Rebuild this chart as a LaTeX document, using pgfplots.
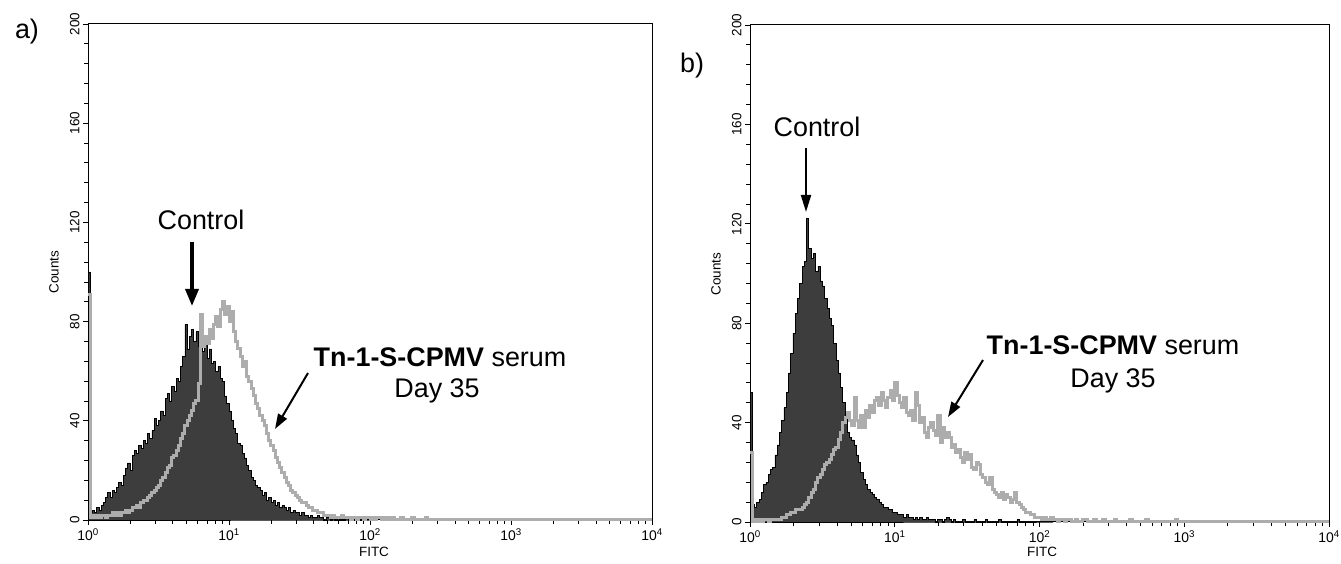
\documentclass[border=0pt]{standalone}
\usepackage{fontspec}
\setmainfont{Liberation Sans}
\usepackage{pgfplots}
\usepackage{pgfplotstable}
\pgfplotsset{compat=1.18}
\usetikzlibrary{arrows.meta}
\definecolor{ctrlfill}{gray}{0.24}
\definecolor{serumline}{gray}{0.68}

\pgfplotstableread[row sep=\\]{
i c\\
0 100\\ 1 3\\ 2 4\\ 3 3\\ 4 5\\ 5 4\\ 6 6\\ 7 7\\ 8 9\\ 9 11\\ 10 9\\ 11 12\\ 12 11\\ 13 13\\ 14 15\\ 15 14\\ 16 18\\ 17 21\\ 18 23\\ 19 20\\
20 26\\ 21 28\\ 22 27\\ 23 30\\ 24 29\\ 25 32\\ 26 31\\ 27 35\\ 28 33\\ 29 36\\ 30 41\\ 31 38\\ 32 40\\ 33 44\\ 34 42\\ 35 49\\ 36 51\\ 37 48\\ 38 54\\ 39 52\\
40 57\\ 41 56\\ 42 62\\ 43 66\\ 44 79\\ 45 69\\ 46 74\\ 47 77\\ 48 72\\ 49 76\\ 50 70\\ 51 74\\ 52 68\\ 53 72\\ 54 65\\ 55 69\\ 56 63\\ 57 64\\ 58 60\\ 59 62\\
60 57\\ 61 56\\ 62 50\\ 63 47\\ 64 44\\ 65 40\\ 66 37\\ 67 35\\ 68 31\\ 69 30\\ 70 27\\ 71 25\\ 72 22\\ 73 20\\ 74 17\\ 75 16\\ 76 14\\ 77 13\\ 78 12\\ 79 10\\
80 11\\ 81 8\\ 82 9\\ 83 7\\ 84 8\\ 85 6\\ 86 7\\ 87 5\\ 88 6\\ 89 5\\ 90 4\\ 91 5\\ 92 3\\ 93 4\\ 94 3\\ 95 3\\ 96 2\\ 97 3\\ 98 2\\ 99 2\\
100 1\\ 101 2\\ 102 1\\ 103 1\\ 104 2\\ 105 1\\ 106 1\\ 107 0\\ 108 1\\ 109 1\\ 110 0\\ 111 1\\ 112 0\\ 113 1\\ 114 0\\ 117 1\\ 118 0\\ 121 1\\ 122 0\\ 124 1\\ 125 0\\ 128 0\\
}\ctrlA

\pgfplotstableread[row sep=\\]{
i c\\
0 91\\ 1 1\\ 2 2\\ 3 1\\ 4 2\\ 5 1\\ 6 2\\ 7 2\\ 8 1\\ 9 2\\ 10 2\\ 11 3\\ 12 2\\ 13 3\\ 14 2\\ 15 3\\ 16 3\\ 17 4\\ 18 3\\ 19 4\\
20 5\\ 21 5\\ 22 6\\ 23 5\\ 24 7\\ 25 8\\ 26 8\\ 27 9\\ 28 10\\ 29 11\\ 30 12\\ 31 13\\ 32 14\\ 33 16\\ 34 17\\ 35 19\\ 36 21\\ 37 22\\ 38 25\\ 39 26\\
40 28\\ 41 30\\ 42 33\\ 43 35\\ 44 38\\ 45 40\\ 46 42\\ 47 44\\ 48 47\\ 49 48\\ 50 55\\ 51 83\\ 52 70\\ 53 74\\ 54 71\\ 55 77\\ 56 73\\ 57 79\\ 58 82\\ 59 78\\
60 85\\ 61 88\\ 62 83\\ 63 86\\ 64 80\\ 65 84\\ 66 76\\ 67 72\\ 68 69\\ 69 66\\ 70 62\\ 71 64\\ 72 58\\ 73 56\\ 74 53\\ 75 50\\ 76 47\\ 77 45\\ 78 42\\ 79 40\\
80 38\\ 81 35\\ 82 32\\ 83 30\\ 84 28\\ 85 25\\ 86 23\\ 87 21\\ 88 19\\ 89 17\\ 90 15\\ 91 14\\ 92 12\\ 93 11\\ 94 10\\ 95 9\\ 96 8\\ 97 7\\ 98 7\\ 99 6\\
100 5\\ 101 5\\ 102 4\\ 103 4\\ 104 3\\ 105 3\\ 106 3\\ 107 2\\ 108 2\\ 109 2\\ 110 1\\ 111 2\\ 112 1\\ 113 1\\ 114 1\\ 115 2\\ 116 1\\ 117 1\\ 118 1\\ 119 0\\
120 1\\ 121 1\\ 122 0\\ 123 1\\ 124 1\\ 125 0\\ 126 1\\ 127 1\\ 128 0\\ 129 1\\ 130 0\\ 131 1\\ 132 1\\ 133 0\\ 134 1\\ 135 0\\ 136 1\\ 137 0\\ 138 1\\ 139 0\\
142 1\\ 143 0\\ 147 1\\ 148 0\\ 153 1\\ 154 0\\ 256 0\\
}\serumA

\pgfplotstableread[row sep=\\]{
i c\\
0 52\\ 1 7\\ 2 6\\ 3 8\\ 4 9\\ 5 12\\ 6 15\\ 7 16\\ 8 19\\ 9 21\\ 10 22\\ 11 27\\ 12 31\\ 13 36\\ 14 41\\ 15 46\\ 16 52\\ 17 60\\ 18 68\\ 19 76\\
20 84\\ 21 90\\ 22 96\\ 23 103\\ 24 105\\ 25 122\\ 26 110\\ 27 106\\ 28 108\\ 29 101\\ 30 103\\ 31 97\\ 32 95\\ 33 90\\ 34 86\\ 35 82\\ 36 79\\ 37 72\\ 38 65\\ 39 60\\
40 54\\ 41 48\\ 42 42\\ 43 36\\ 44 34\\ 45 33\\ 46 31\\ 47 27\\ 48 24\\ 49 20\\ 50 17\\ 51 15\\ 52 13\\ 53 12\\ 54 11\\ 55 10\\ 56 9\\ 57 8\\ 58 7\\ 59 6\\
60 6\\ 61 5\\ 62 5\\ 63 4\\ 64 4\\ 65 3\\ 66 3\\ 67 3\\ 68 2\\ 69 3\\ 70 2\\ 71 2\\ 72 1\\ 73 2\\ 74 1\\ 75 2\\ 76 1\\ 77 1\\ 78 2\\ 79 1\\
80 1\\ 81 1\\ 82 0\\ 83 1\\ 84 1\\ 85 0\\ 86 1\\ 87 2\\ 88 1\\ 89 0\\ 90 1\\ 91 0\\ 94 1\\ 95 0\\ 99 1\\ 100 0\\ 104 1\\ 105 0\\ 110 1\\ 111 0\\ 118 1\\ 119 0\\ 134 0\\
}\ctrlB

\pgfplotstableread[row sep=\\]{
i c\\
0 28\\ 1 0\\ 2 1\\ 3 0\\ 4 1\\ 5 0\\ 6 1\\ 7 1\\ 8 0\\ 9 1\\ 10 1\\ 11 1\\ 12 1\\ 13 1\\ 14 2\\ 15 2\\ 16 3\\ 17 3\\ 18 4\\ 19 4\\
20 5\\ 21 5\\ 22 5\\ 23 6\\ 24 7\\ 25 8\\ 26 10\\ 27 12\\ 28 13\\ 29 16\\ 30 18\\ 31 19\\ 32 21\\ 33 23\\ 34 24\\ 35 25\\ 36 27\\ 37 29\\ 38 30\\ 39 33\\
40 36\\ 41 40\\ 42 42\\ 43 44\\ 44 41\\ 45 39\\ 46 50\\ 47 41\\ 48 38\\ 49 43\\ 50 38\\ 51 45\\ 52 42\\ 53 47\\ 54 44\\ 55 49\\ 56 50\\ 57 47\\ 58 52\\ 59 49\\
60 46\\ 61 50\\ 62 53\\ 63 49\\ 64 56\\ 65 51\\ 66 48\\ 67 46\\ 68 50\\ 69 44\\ 70 43\\ 71 45\\ 72 41\\ 73 52\\ 74 47\\ 75 40\\ 76 42\\ 77 36\\ 78 34\\ 79 38\\
80 40\\ 81 37\\ 82 35\\ 83 43\\ 84 32\\ 85 38\\ 86 34\\ 87 36\\ 88 34\\ 89 30\\ 90 31\\ 91 28\\ 92 29\\ 93 26\\ 94 24\\ 95 28\\ 96 25\\ 97 27\\ 98 22\\ 99 21\\
100 24\\ 101 23\\ 102 19\\ 103 18\\ 104 16\\ 105 15\\ 106 18\\ 107 13\\ 108 12\\ 109 11\\ 110 10\\ 111 12\\ 112 9\\ 113 11\\ 114 10\\ 115 8\\ 116 9\\ 117 12\\ 118 8\\ 119 7\\
120 6\\ 121 5\\ 122 4\\ 123 4\\ 124 3\\ 125 3\\ 126 2\\ 127 2\\ 128 2\\ 129 1\\ 130 2\\ 131 1\\ 132 1\\ 133 2\\ 134 1\\ 135 1\\ 136 0\\ 137 1\\ 138 1\\ 139 0\\
140 1\\ 141 1\\ 142 0\\ 144 1\\ 145 0\\ 147 1\\ 148 1\\ 149 0\\ 152 1\\ 153 0\\ 156 1\\ 157 0\\ 161 1\\ 162 0\\ 168 1\\ 169 0\\ 175 1\\ 176 0\\ 188 1\\ 189 0\\ 256 0\\
}\serumB

\pgfplotsset{
  facs/.style={
    scale only axis, anchor=south west,
    xmin=0, xmax=4, ymin=0, ymax=200,
    xtick={0,1,2,3,4},
    xticklabels={10\textsuperscript{0},10\textsuperscript{1},10\textsuperscript{2},10\textsuperscript{3},10\textsuperscript{4}},
    minor xtick={0.30103,0.47712,0.60206,0.69897,0.77815,0.84510,0.90309,0.95424,
      1.30103,1.47712,1.60206,1.69897,1.77815,1.84510,1.90309,1.95424,
      2.30103,2.47712,2.60206,2.69897,2.77815,2.84510,2.90309,2.95424,
      3.30103,3.47712,3.60206,3.69897,3.77815,3.84510,3.90309,3.95424},
    ytick={0,40,80,120,160,200},
    yticklabels={0,40,80,120,160,200},
    minor y tick num=4,
    tick align=outside,
    xtick pos=bottom, ytick pos=left,
    major tick length=5bp, minor tick length=4bp,
    every tick/.style={black, line width=0.8bp},
    xticklabel style={font=\fontsize{14}{14}\selectfont},
    yticklabel style={font=\fontsize{13.5}{13.5}\selectfont, rotate=90, anchor=south},
    axis line style={line width=1bp},
    clip=false,
  },
  ctrl/.style={const plot, draw=black, line width=0.7bp, fill=ctrlfill},
  serum/.style={const plot, draw=serumline, line width=3bp},
}

\begin{document}
\begin{tikzpicture}[x=1bp,y=1bp]
\useasboundingbox (0,0) rectangle (1341,564);

% ---------- panel a ----------
\begin{axis}[facs, at={(88bp,44bp)}, width=564bp, height=496bp]
\addplot[ctrl] table[x expr=\thisrow{i}/64, y=c] {\ctrlA} \closedcycle;
\addplot[serum] table[x expr=\thisrow{i}/64, y=c] {\serumA};
\end{axis}

% ---------- panel b ----------
\begin{axis}[facs, at={(750bp,42bp)}, width=579bp, height=497bp]
\addplot[ctrl] table[x expr=\thisrow{i}/64, y=c] {\ctrlB} \closedcycle;
\addplot[serum] table[x expr=\thisrow{i}/64, y=c] {\serumB};
\end{axis}

% axis titles
\node[rotate=90, font=\fontsize{13.5}{13.5}\selectfont] at (54,292) {Counts};
\node[rotate=90, font=\fontsize{13.5}{13.5}\selectfont] at (716,290) {Counts};
\node[font=\fontsize{13.5}{13.5}\selectfont] at (374,12) {FITC};
\node[font=\fontsize{13.5}{13.5}\selectfont] at (1042,12) {FITC};

% panel letters
\node[font=\fontsize{27}{27}\selectfont] at (27,532) {a)};
\node[font=\fontsize{27}{27}\selectfont] at (692,498) {b)};

% annotations panel a
\node[anchor=base, font=\fontsize{27}{27}\selectfont] at (201,334) {Control};
\draw[line width=3.5bp, -{Triangle[length=17bp,width=13bp]}] (192,322) -- (192,258);
\node[anchor=base, font=\fontsize{27}{27}\selectfont] at (440,197) {\textbf{Tn-1-S-CPMV} serum};
\node[anchor=base, font=\fontsize{27}{27}\selectfont] at (437,166) {Day 35};
\draw[line width=2bp, -{Triangle[length=15bp,width=10bp]}] (308,191) -- (275,135);

% annotations panel b
\node[anchor=base, font=\fontsize{27}{27}\selectfont] at (817,427) {Control};
\draw[line width=2bp, -{Triangle[length=17bp,width=10bp]}] (806,416) -- (806,352);
\node[anchor=base, font=\fontsize{27}{27}\selectfont] at (1113,209) {\textbf{Tn-1-S-CPMV} serum};
\node[anchor=base, font=\fontsize{27}{27}\selectfont] at (1113,176) {Day 35};
\draw[line width=2bp, -{Triangle[length=15bp,width=10bp]}] (983,204) -- (948,147);
\end{tikzpicture}
\end{document}
